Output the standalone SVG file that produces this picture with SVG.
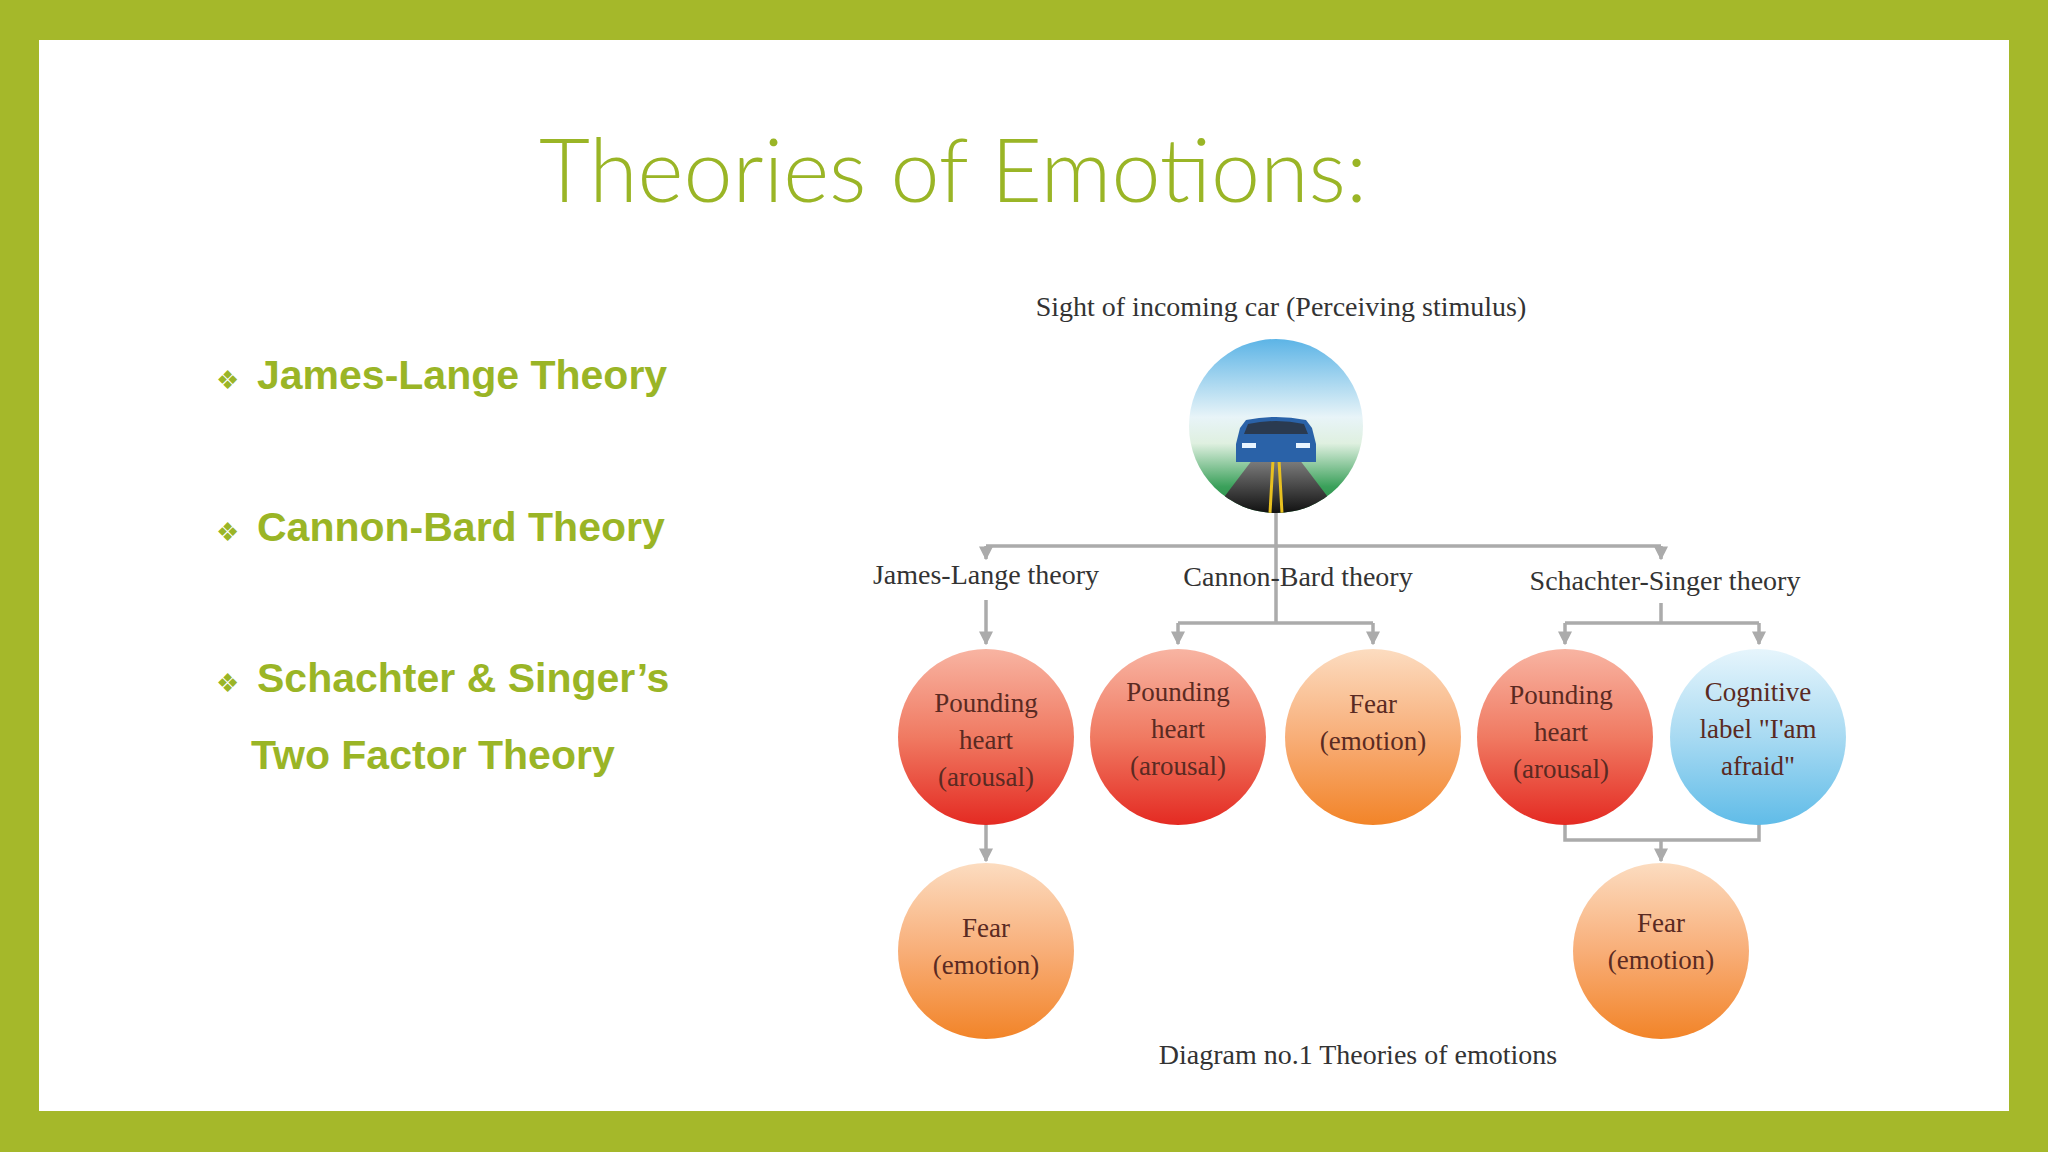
<svg xmlns="http://www.w3.org/2000/svg" width="2048" height="1152" viewBox="0 0 2048 1152">
<defs>
<style>
.bt{font-family:"Liberation Sans",Arial,sans-serif;font-weight:bold;font-size:41px;fill:#9ab526}
.bl{font-family:"DejaVu Sans",sans-serif;font-size:26px;fill:#9ab526}
.lb{font-family:"Liberation Serif","Times New Roman",serif;font-size:28px;fill:#333;text-anchor:middle}
.ct{font-family:"Liberation Serif","Times New Roman",serif;font-size:27px;fill:#5a2a22;text-anchor:middle}
.cn{fill:none;stroke:#ababab;stroke-width:3.5}
</style>
<linearGradient id="red" x1="0" y1="0" x2="0" y2="1"><stop offset="0" stop-color="#f8b4a2"/><stop offset="0.5" stop-color="#f07a62"/><stop offset="1" stop-color="#e42a22"/></linearGradient>
<linearGradient id="org" x1="0" y1="0" x2="0" y2="1"><stop offset="0" stop-color="#fcdcc0"/><stop offset="0.5" stop-color="#f8ae78"/><stop offset="1" stop-color="#f28428"/></linearGradient>
<linearGradient id="blu" x1="0" y1="0" x2="0" y2="1"><stop offset="0" stop-color="#e6f5fc"/><stop offset="0.5" stop-color="#a8daf2"/><stop offset="1" stop-color="#60bce8"/></linearGradient>
<linearGradient id="sky" x1="0" y1="0" x2="0" y2="1"><stop offset="0" stop-color="#5cb4e6"/><stop offset="0.45" stop-color="#e8f4f8"/><stop offset="0.6" stop-color="#dff0e0"/><stop offset="0.85" stop-color="#3aa05a"/><stop offset="1" stop-color="#2a8a48"/></linearGradient>
<linearGradient id="road" x1="0" y1="0" x2="0" y2="1"><stop offset="0" stop-color="#888"/><stop offset="1" stop-color="#111"/></linearGradient>
<clipPath id="cc"><circle cx="1276" cy="426" r="87"/></clipPath>
<marker id="ar" viewBox="0 0 10 10" refX="9" refY="5" markerWidth="4" markerHeight="4" orient="auto"><path d="M0,0L10,5L0,10z" fill="#ababab"/></marker>
</defs>
<rect width="2048" height="1152" fill="#a5b82a"/>
<rect x="39" y="40" width="1970" height="1071" fill="#fff"/>
<text x="953" y="202" text-anchor="middle" font-family="Lato,'Open Sans',sans-serif" font-weight="300" font-size="88" fill="#9ab526">Theories of Emotions:</text>
<g id="bullets">
<text x="216" y="389" class="bl">❖</text><text x="257" y="389" class="bt">James-Lange Theory</text>
<text x="216" y="541" class="bl">❖</text><text x="257" y="541" class="bt">Cannon-Bard Theory</text>
<text x="216" y="692" class="bl">❖</text><text x="257" y="692" class="bt">Schachter &amp; Singer’s</text>
<text x="251" y="769" class="bt">Two Factor Theory</text>
</g>
<g id="connectors">
<path class="cn" d="M1276 513V623M986 546H1661"/>
<path class="cn" marker-end="url(#ar)" d="M986 546V559"/>
<path class="cn" marker-end="url(#ar)" d="M1661 546V559"/>
<path class="cn" marker-end="url(#ar)" d="M986 600V644"/>
<path class="cn" d="M1178 623H1373"/>
<path class="cn" marker-end="url(#ar)" d="M1178 623V644"/>
<path class="cn" marker-end="url(#ar)" d="M1373 623V644"/>
<path class="cn" d="M1661 603V623M1565 623H1759"/>
<path class="cn" marker-end="url(#ar)" d="M1565 623V644"/>
<path class="cn" marker-end="url(#ar)" d="M1759 623V644"/>
<path class="cn" marker-end="url(#ar)" d="M986 824V861"/>
<path class="cn" d="M1565 824V840H1759V824"/>
<path class="cn" marker-end="url(#ar)" d="M1661 840V861"/>
</g>
<g id="stimulus">
<text x="1281" y="316" class="lb">Sight of incoming car (Perceiving stimulus)</text>
<g clip-path="url(#cc)">
<rect x="1189" y="339" width="174" height="174" fill="url(#sky)"/>
<path d="M1256 455L1296 455L1340 513L1212 513Z" fill="url(#road)"/>
<path d="M1273 460L1270 513M1279 460L1282 513" stroke="#e8c020" stroke-width="3"/>
<path d="M1240 428L1246 420Q1276 414 1306 420L1312 428L1316 444L1316 462L1236 462L1236 444Z" fill="#2a62a8"/>
<path d="M1248 424Q1276 418 1304 424L1308 434L1244 434Z" fill="#2a3a50"/>
<rect x="1242" y="443" width="14" height="5" fill="#e8f4ff"/><rect x="1296" y="443" width="14" height="5" fill="#e8f4ff"/>
</g>
</g>
<g id="jl"><text x="986" y="584" class="lb">James-Lange theory</text></g>
<g id="cb"><text x="1298" y="586" class="lb">Cannon-Bard theory</text></g>
<g id="ss"><text x="1665" y="590" class="lb">Schachter-Singer theory</text></g>
<g id="jl-heart"><circle cx="986" cy="737" r="88" fill="url(#red)"/><text class="ct" x="986" y="712">Pounding</text><text class="ct" x="986" y="749">heart</text><text class="ct" x="986" y="786">(arousal)</text></g>
<g id="jl-fear"><circle cx="986" cy="951" r="88" fill="url(#org)"/><text class="ct" x="986" y="937">Fear</text><text class="ct" x="986" y="974">(emotion)</text></g>
<g id="cb-heart"><circle cx="1178" cy="737" r="88" fill="url(#red)"/><text class="ct" x="1178" y="701">Pounding</text><text class="ct" x="1178" y="738">heart</text><text class="ct" x="1178" y="775">(arousal)</text></g>
<g id="cb-fear"><circle cx="1373" cy="737" r="88" fill="url(#org)"/><text class="ct" x="1373" y="713">Fear</text><text class="ct" x="1373" y="750">(emotion)</text></g>
<g id="ss-heart"><circle cx="1565" cy="737" r="88" fill="url(#red)"/><text class="ct" x="1561" y="704">Pounding</text><text class="ct" x="1561" y="741">heart</text><text class="ct" x="1561" y="778">(arousal)</text></g>
<g id="ss-cog"><circle cx="1758" cy="737" r="88" fill="url(#blu)"/><text class="ct" x="1758" y="701">Cognitive</text><text class="ct" x="1758" y="738">label "I'am</text><text class="ct" x="1758" y="775">afraid"</text></g>
<g id="ss-fear"><circle cx="1661" cy="951" r="88" fill="url(#org)"/><text class="ct" x="1661" y="932">Fear</text><text class="ct" x="1661" y="969">(emotion)</text></g>
<text x="1358" y="1064" class="lb" font-size="34">Diagram no.1 Theories of emotions</text>
</svg>
